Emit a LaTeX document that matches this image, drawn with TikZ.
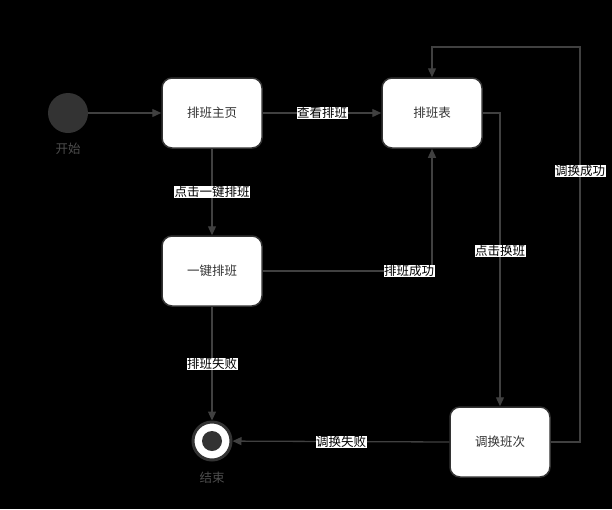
\documentclass[tikz,border=0pt]{standalone}
\usepackage{fontspec}
\newfontfamily\cjk{Noto Sans CJK SC}
\usetikzlibrary{arrows.meta}
\definecolor{edgec}{HTML}{404040}
\definecolor{startc}{HTML}{333333}
\definecolor{lblc}{HTML}{4D4D4D}
\begin{document}
\begin{tikzpicture}[x=1pt,y=-1pt,
  font=\cjk\fontsize{12.5}{14}\selectfont,
  state/.style={draw=startc,line width=1.5pt,fill=white,rounded corners=10pt,minimum width=100pt,minimum height=70pt,text=black!80},
  conn/.style={draw=edgec,line width=1.3pt,-{Triangle[length=9pt,width=8pt]}},
  elabel/.style={fill=white,text=black,inner sep=0.5pt,font=\cjk\fontsize{12.5}{14}\selectfont},
  caption/.style={text=lblc}]
\fill[black] (0,0) rectangle (612,509);
\useasboundingbox (0,0) rectangle (612,509);
% nodes
\node[circle,fill=startc,minimum size=40pt,inner sep=0pt] (start) at (68,113) {};
\node[caption] (startl) at (68,149) {开始};
\node[state] (home) at (212,113) {排班主页};
\node[state] (table) at (432,113) {排班表};
\node[state] (auto) at (212,271) {一键排班};
\node[state] (swap) at (500,442) {调换班次};
\node[circle,draw=startc,line width=3pt,fill=white,minimum size=38pt,inner sep=0pt] (end) at (212,441) {};
\node[circle,fill=startc,minimum size=20pt,inner sep=0pt] (endin) at (212,441) {};
\node[caption] (endl) at (212,478) {结束};
% corner coordinates
\coordinate (c1) at (432,271);
\coordinate (c2) at (500,113);
\coordinate (c3) at (580,442);
\coordinate (c4) at (580,47);
\coordinate (c5) at (432,47);
% edges
\draw[conn] (start) -- (home);
\draw[conn] (home) -- node[elabel] {查看排班} (table);
\draw[conn] (home) -- node[elabel,pos=0.5] {点击一键排班} (auto);
\draw[conn] (auto.east) -- (c1) -- (table.south);
\node[elabel] (lsucc) at (409,271) {排班成功};
\draw[conn] (table.east) -- (c2) -- (swap.north);
\node[elabel] (lclick) at (500,251) {点击换班};
\draw[conn] (swap.east) -- (c3) -- (c4) -- (c5) -- (table.north);
\node[elabel] (lswapok) at (580,171) {调换成功};
\draw[conn] (auto) -- (end);
\node[elabel] (lfail) at (212,364) {排班失败};
\draw[conn] (swap.west) -- (end);
\node[elabel] (lswapfail) at (341,442) {调换失败};
\end{tikzpicture}
\end{document}
